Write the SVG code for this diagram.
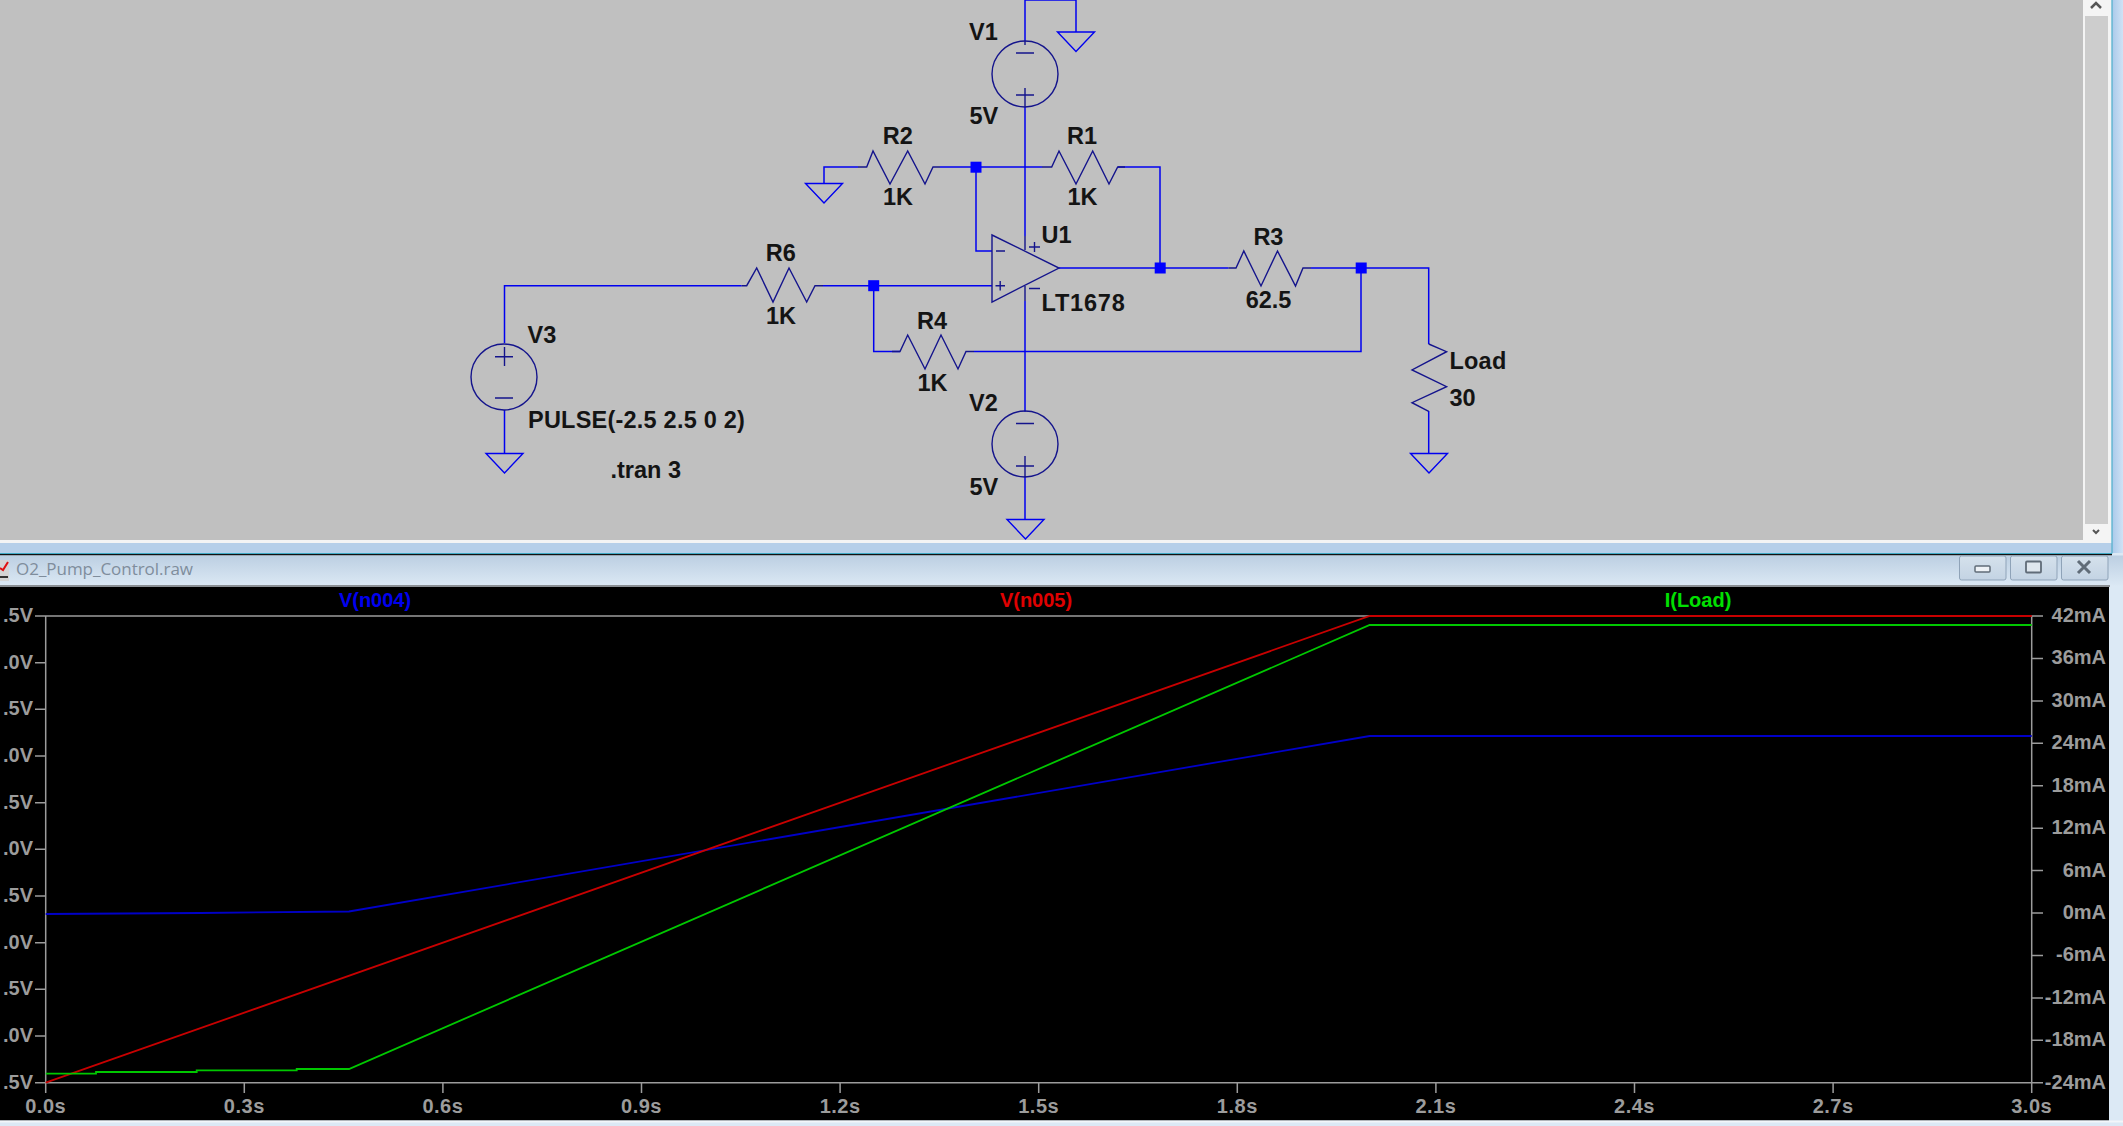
<svg xmlns="http://www.w3.org/2000/svg" width="2123" height="1126" viewBox="0 0 2123 1126">
<style>
text{font-family:"Liberation Sans",Arial,sans-serif}
.l{font-size:23.5px;font-weight:700;fill:#141414}
.w{fill:none;stroke:#0000f0;stroke-width:1.5}
.s{fill:none;stroke:#14148c;stroke-width:1.4}
.j{fill:#0000ff}
.a{fill:none;stroke:#9c9c9c;stroke-width:1.5}
.p{font-size:20px;font-weight:700;fill:#9c9c9c}
.e{text-anchor:end}
.m{text-anchor:middle}
.x{letter-spacing:.5px}
.t{fill:none;stroke-width:1.8}
.b{fill:url(#btn);stroke:#8fa3b8;stroke-width:1}
</style>
<defs>
<linearGradient id="side" x1="0" x2="1" y1="0" y2="0"><stop offset="0" stop-color="#aac9ea"/><stop offset="1" stop-color="#cfe2f5"/></linearGradient>
<linearGradient id="bar" x1="0" x2="0" y1="0" y2="1"><stop offset="0" stop-color="#bccfe2"/><stop offset="1" stop-color="#dbe8f4"/></linearGradient>
<linearGradient id="btn" x1="0" x2="0" y1="0" y2="1"><stop offset="0" stop-color="#d5e1ec"/><stop offset="1" stop-color="#c3d3e3"/></linearGradient>
<polygon id="gnd" points="-18.5,0 18.5,0 0,19.5" fill="none" stroke="#0000f0" stroke-width="1.4"/>
</defs>
<rect id="frame" width="2123" height="1126" fill="#dce9f5"/>
<rect id="side-top" x="2112" y="0" width="11" height="553" fill="url(#side)"/>
<rect id="strip" x="0" y="543" width="2112" height="10" fill="#b6cfe9"/>
<rect id="schematic-white" x="0" y="0" width="2111" height="543" fill="#f4f4f4"/>
<rect id="schematic" x="0" y="0" width="2083" height="540" fill="#c0c0c0"/>
<g id="scrollbar">
<rect x="2085" y="16" width="23" height="508" fill="#cdcdcd"/>
<path d="M2091,8 L2096,3 L2101,8" fill="none" stroke="#555" stroke-width="2.5"/>
<path d="M2093,530 L2096,533 L2099,530" fill="none" stroke="#555" stroke-width="2"/>
</g>
<path id="window-border" d="M0,553.5 H2112 V0" fill="none" stroke="#3fa9c4" stroke-width="1"/>
<rect x="0" y="554" width="2112" height="1.5" fill="#111"/>

<g id="titlebar">
<rect x="0" y="555.5" width="2123" height="30" fill="url(#bar)"/>
<rect x="0" y="585" width="2110" height="2" fill="#8a8f94"/>
<rect x="0" y="560" width="9" height="21" fill="#d4d4d4"/>
<path d="M0,568 L3,570 L8,562" fill="none" stroke="#e01010" stroke-width="2"/>
<path d="M0,577 H8" stroke="#333" stroke-width="2"/>
<text x="16" y="575" font-size="17" fill="#7f8d9c" style="font-family:'Open Sans','Liberation Sans',sans-serif" textLength="177">O2_Pump_Control.raw</text>
<rect class="b" x="1959.5" y="556" width="46.5" height="24" rx="2"/>
<rect class="b" x="2010.5" y="556" width="46.5" height="24" rx="2"/>
<rect class="b" x="2061.5" y="556" width="46.5" height="24" rx="2"/>
<rect x="1975" y="566" width="15" height="6" rx="1" fill="#eef2f6" stroke="#606c78" stroke-width="1.5"/>
<rect x="2026" y="561.5" width="15" height="11" rx="1" fill="#dfe7ee" stroke="#606c78" stroke-width="1.8"/>
<path d="M2078,561 L2090,573 M2090,561 L2078,573" stroke="#606c78" stroke-width="3"/>
</g>

<rect id="plot-bg" x="0" y="587" width="2109" height="533.5" fill="#000"/>
<rect x="0" y="1120.5" width="2123" height="2" fill="#f2f6fa"/>

<g id="plot-axes">
<path class="a" d="M35,616 H2043 M35,1082.7 H2043 M45.7,616 V1082.7 M2031.7,616 V1082.7"/>
<path class="a" d="M35,662.7 H45.7 M35,709.3 H45.7 M35,756 H45.7 M35,802.7 H45.7 M35,849.3 H45.7 M35,896 H45.7 M35,942.7 H45.7 M35,989.3 H45.7 M35,1036 H45.7"/>
<path class="a" d="M2031.7,658.4 H2043 M2031.7,700.9 H2043 M2031.7,743.3 H2043 M2031.7,785.8 H2043 M2031.7,828.2 H2043 M2031.7,870.6 H2043 M2031.7,913.1 H2043 M2031.7,955.5 H2043 M2031.7,997.9 H2043 M2031.7,1040.3 H2043"/>
<path class="a" d="M45.7,1082.7 V1093 M244.3,1082.7 V1093 M442.9,1082.7 V1093 M641.5,1082.7 V1093 M840.1,1082.7 V1093 M1038.7,1082.7 V1093 M1237.3,1082.7 V1093 M1435.9,1082.7 V1093 M1634.5,1082.7 V1093 M1833.1,1082.7 V1093 M2031.7,1082.7 V1093"/>
<text class="p e" x="33" y="622">.5V</text>
<text class="p e" x="33" y="669">.0V</text>
<text class="p e" x="33" y="715">.5V</text>
<text class="p e" x="33" y="762">.0V</text>
<text class="p e" x="33" y="809">.5V</text>
<text class="p e" x="33" y="855">.0V</text>
<text class="p e" x="33" y="902">.5V</text>
<text class="p e" x="33" y="949">.0V</text>
<text class="p e" x="33" y="995">.5V</text>
<text class="p e" x="33" y="1042">.0V</text>
<text class="p e" x="33" y="1089">.5V</text>
<text class="p e" x="2106" y="622">42mA</text>
<text class="p e" x="2106" y="664">36mA</text>
<text class="p e" x="2106" y="707">30mA</text>
<text class="p e" x="2106" y="749">24mA</text>
<text class="p e" x="2106" y="792">18mA</text>
<text class="p e" x="2106" y="834">12mA</text>
<text class="p e" x="2106" y="877">6mA</text>
<text class="p e" x="2106" y="919">0mA</text>
<text class="p e" x="2106" y="961">-6mA</text>
<text class="p e" x="2106" y="1004">-12mA</text>
<text class="p e" x="2106" y="1046">-18mA</text>
<text class="p e" x="2106" y="1089">-24mA</text>
<text class="p m x" x="45.7" y="1113">0.0s</text>
<text class="p m x" x="244.3" y="1113">0.3s</text>
<text class="p m x" x="442.9" y="1113">0.6s</text>
<text class="p m x" x="641.5" y="1113">0.9s</text>
<text class="p m x" x="840.1" y="1113">1.2s</text>
<text class="p m x" x="1038.7" y="1113">1.5s</text>
<text class="p m x" x="1237.3" y="1113">1.8s</text>
<text class="p m x" x="1435.9" y="1113">2.1s</text>
<text class="p m x" x="1634.5" y="1113">2.4s</text>
<text class="p m x" x="1833.1" y="1113">2.7s</text>
<text class="p m x" x="2031.7" y="1113">3.0s</text>
</g>
<g id="plot-legend">
<text class="p m" x="375" y="607" style="fill:#0000f0">V(n004)</text>
<text class="p m" x="1036" y="607" style="fill:#e00000">V(n005)</text>
<text class="p m" x="1698" y="607" style="fill:#00e000">I(Load)</text>
</g>
<g id="traces">
<polyline id="trace-n004" class="t" stroke="#0000c8" points="45.7,914 200,913 349,911.5 1369.7,736 2031.7,736"/>
<polyline id="trace-n005" class="t" stroke="#c80000" points="45.7,1082.7 1369.7,616 2031.7,616"/>
<polyline id="trace-load" class="t" stroke="#00c800" points="45.7,1073.7 96,1073.7 96,1072 196.7,1072 196.7,1070.3 296.7,1070.3 296.7,1069 349,1069 1369.7,625 2031.7,625"/>
</g>

<g id="connectors">
<path class="w" d="M1025,41 V0 H1076 V32"/>
<path class="w" d="M1025,107 V236"/>
<path class="w" d="M858,167 H824 V183"/>
<path class="w" d="M940,167 H1042"/>
<path class="w" d="M1118,167 H1160 V268"/>
<path class="w" d="M976,167 V251 H992"/>
<path class="w" d="M1059,268 H1228.5"/>
<path class="w" d="M1311,268 H1428.7 V344"/>
<path class="w" d="M504.5,343 V285.7 H741.7"/>
<path class="w" d="M823,285.7 H992"/>
<path class="w" d="M504.5,410 V453"/>
<path class="w" d="M873.7,285.7 V351.5 H900"/>
<path class="w" d="M974,351.5 H1361 V268"/>
<path class="w" d="M1025,301 V411.7"/>
<path class="w" d="M1025,476 V519"/>
<path class="w" d="M1428.7,411 V453"/>
</g>

<g id="GND1"><use href="#gnd" x="1076" y="32"/></g>
<g id="GND2"><use href="#gnd" x="824" y="183.5"/></g>
<g id="GND3"><use href="#gnd" x="504.5" y="453.5"/></g>
<g id="GND4"><use href="#gnd" x="1025.5" y="519.5"/></g>
<g id="GND5"><use href="#gnd" x="1429" y="453.5"/></g>

<g id="V1">
<circle class="s" cx="1025" cy="74" r="33"/>
<path class="s" d="M1016,53 H1034 M1016,95 H1034 M1025,88 V107 M1025,41 V45"/>
<text class="l" x="969" y="40">V1</text>
<text class="l" x="969.5" y="124">5V</text>
</g>
<g id="V2">
<circle class="s" cx="1025" cy="444" r="33"/>
<path class="s" d="M1016,423.5 H1034 M1016,466 H1034 M1025,456 V477"/>
<text class="l" x="969" y="411">V2</text>
<text class="l" x="969.5" y="495">5V</text>
</g>
<g id="V3">
<circle class="s" cx="504" cy="377" r="33"/>
<path class="s" d="M495,356.7 H513 M495,398 H513 M504.5,347 V366"/>
<text class="l" x="527.5" y="343">V3</text>
<text class="l" x="528" y="427.5" style="letter-spacing:.22px">PULSE(-2.5 2.5 0 2)</text>
</g>
<g id="R2">
<polyline class="s" points="858,167 866.7,167 873,151 890,184 907.7,151 925,184 933,167 940,167"/>
<text class="l" x="882.7" y="144">R2</text>
<text class="l" x="883" y="205">1K</text>
</g>
<g id="R1">
<polyline class="s" points="1042,167 1051.7,167 1059,151 1076,184 1092.7,151 1109,184 1117.7,167 1125,167"/>
<text class="l" x="1067" y="144">R1</text>
<text class="l" x="1067.5" y="205">1K</text>
</g>
<g id="R6">
<polyline class="s" points="741.7,285.7 746.7,285.7 756.7,268 773,302 789,268 806.7,302 815,285.7 823,285.7"/>
<text class="l" x="765.7" y="261">R6</text>
<text class="l" x="766" y="323.5">1K</text>
</g>
<g id="R4">
<polyline class="s" points="892,351.5 900,351.5 907.7,335 925,369 941,335 958,369 966,351.5 974,351.5"/>
<text class="l" x="917" y="328.5">R4</text>
<text class="l" x="917.5" y="391">1K</text>
</g>
<g id="R3">
<polyline class="s" points="1228.5,268 1236,268 1243.8,251 1261,286 1277.5,251 1295.5,286 1303,268 1311,268"/>
<text class="l" x="1253.4" y="244.5">R3</text>
<text class="l" x="1245.7" y="307.5">62.5</text>
</g>
<g id="Load">
<polyline class="s" points="1428.7,344 1446.6,351.7 1412,370 1446.6,386.7 1412,402.7 1428.7,411.3"/>
<text class="l" x="1449.5" y="368.5" style="letter-spacing:.2px">Load</text>
<text class="l" x="1449.5" y="406">30</text>
</g>
<g id="U1">
<polygon class="s" points="992,235 1059,268 992,302"/>
<path class="s" d="M996,251 H1005 M995.5,285.7 H1005 M1000.2,281 V290.5 M1029,247 H1040 M1034.5,242 V252 M1029,288.5 H1040 M1025,236 V250 M1025,286 V301"/>
<text class="l" x="1041.5" y="242.5">U1</text>
<text class="l" x="1041.5" y="310.5" style="letter-spacing:.8px">LT1678</text>
</g>
<text id="tran" class="l" x="610.5" y="477.5">.tran 3</text>

<g id="junctions">
<rect class="j" x="970.5" y="161.7" width="11" height="11"/>
<rect class="j" x="868.2" y="280.2" width="11" height="11"/>
<rect class="j" x="1154.7" y="262.5" width="11" height="11"/>
<rect class="j" x="1355.7" y="262.5" width="11" height="11"/>
</g>
</svg>
